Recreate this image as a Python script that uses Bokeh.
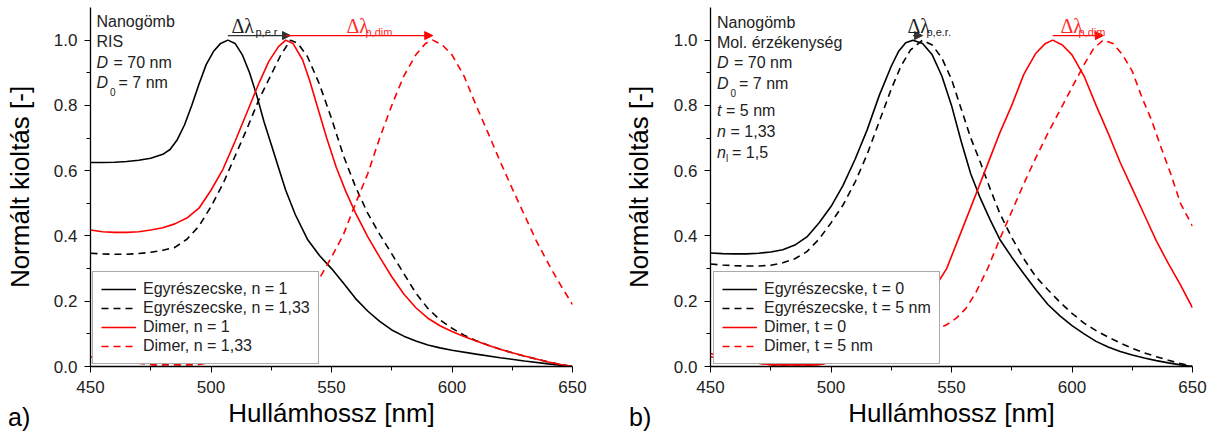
import numpy as np
from bokeh.plotting import figure
from bokeh.layouts import row, column
from bokeh.models import (Range1d, Legend, LegendItem, Label, Arrow, NormalHead,
                          FixedTicker, PrintfTickFormatter, Div)
from bokeh.embed import file_html
from bokeh.resources import INLINE

# ---------------- a) RIS: single sphere vs. dimer, n = 1 and n = 1,33 ----------------
wl_a_single_n1 = [450, 455, 460, 465, 470, 475, 480, 483, 486, 489, 492, 495, 498, 501, 504,
                  507, 510, 513, 516, 519, 522, 525, 528, 531, 535, 540, 545, 550, 555, 560,
                  565, 570, 575, 580, 585, 590, 595, 600, 610, 620, 630, 640, 650]
ext_a_single_n1 = [0.625, 0.625, 0.626, 0.628, 0.632, 0.638, 0.65, 0.665, 0.695, 0.74, 0.80,
                   0.865, 0.925, 0.965, 0.99, 1.0, 0.99, 0.955, 0.90, 0.83, 0.75, 0.68, 0.61,
                   0.54, 0.465, 0.39, 0.34, 0.30, 0.255, 0.208, 0.17, 0.138, 0.112, 0.093,
                   0.078, 0.066, 0.057, 0.05, 0.038, 0.027, 0.017, 0.008, 0.0]

wl_a_single_n133 = [450, 455, 460, 465, 470, 475, 480, 485, 490, 495, 500, 505, 510, 515, 520,
                    525, 529, 533, 536, 540, 545, 550, 555, 560, 565, 570, 575, 580, 585, 590,
                    595, 600, 605, 610, 615, 620, 625, 630, 635, 640, 645, 650]
ext_a_single_n133 = [0.347, 0.345, 0.344, 0.344, 0.346, 0.35, 0.356, 0.365, 0.39, 0.43, 0.49,
                     0.56, 0.645, 0.73, 0.82, 0.895, 0.955, 1.0, 0.99, 0.95, 0.865, 0.76,
                     0.645, 0.55, 0.47, 0.405, 0.345, 0.285, 0.225, 0.178, 0.143, 0.117,
                     0.096, 0.079, 0.065, 0.053, 0.042, 0.032, 0.023, 0.014, 0.006, 0.0]

wl_a_dimer_n1 = [450, 455, 460, 465, 470, 475, 480, 485, 490, 495, 500, 505, 510, 515, 520,
                 524, 528, 531, 534, 538, 541, 544, 548, 552, 556, 560, 565, 570, 575, 580,
                 585, 590, 595, 600, 605, 610, 615, 620, 625, 630, 635, 640, 645, 650]
ext_a_dimer_n1 = [0.418, 0.413, 0.411, 0.411, 0.413, 0.418, 0.425, 0.437, 0.455, 0.485, 0.54,
                  0.605, 0.69, 0.78, 0.87, 0.935, 0.98, 1.0, 0.99, 0.94, 0.875, 0.80, 0.70,
                  0.61, 0.535, 0.47, 0.398, 0.335, 0.275, 0.222, 0.18, 0.148, 0.125, 0.107,
                  0.092, 0.078, 0.065, 0.053, 0.042, 0.032, 0.023, 0.014, 0.006, 0.0]

wl_a_dimer_n133 = [450, 455, 460, 465, 470, 476, 485, 494, 500, 505, 510, 515, 520, 525, 530,
                   535, 540, 545, 550, 555, 560, 565, 570, 575, 580, 585, 589, 592, 596, 600,
                   605, 610, 615, 620, 625, 630, 635, 640, 645, 650]
ext_a_dimer_n133 = [0.03, 0.022, 0.015, 0.012, 0.01, 0.005, 0.005, 0.005, 0.012, 0.02, 0.035,
                    0.055, 0.08, 0.11, 0.145, 0.185, 0.225, 0.27, 0.335, 0.405, 0.50, 0.59,
                    0.70, 0.80, 0.89, 0.955, 0.99, 1.0, 0.985, 0.955, 0.89, 0.80, 0.715,
                    0.628, 0.545, 0.465, 0.385, 0.315, 0.25, 0.19]

# ---------------- b) molecular sensitivity: bare (t = 0) vs. 5 nm layer ----------------
wl_b_single_t0 = [450, 455, 460, 465, 470, 475, 480, 485, 490, 495, 500, 505, 510, 515, 520,
                  525, 528, 531, 534, 538, 542, 546, 550, 554, 558, 562, 566, 570, 575, 580,
                  585, 590, 595, 600, 605, 610, 615, 620, 625, 630, 635, 640, 645, 650]
ext_b_single_t0 = [0.348, 0.346, 0.345, 0.345, 0.347, 0.351, 0.358, 0.372, 0.397, 0.44, 0.49,
                   0.555, 0.635, 0.725, 0.83, 0.92, 0.965, 0.992, 1.0, 0.99, 0.955, 0.89,
                   0.80, 0.69, 0.59, 0.515, 0.45, 0.39, 0.335, 0.284, 0.235, 0.19, 0.155,
                   0.125, 0.10, 0.077, 0.06, 0.046, 0.035, 0.026, 0.018, 0.011, 0.005, 0.0]

wl_b_single_t5 = [450, 455, 460, 465, 470, 475, 480, 485, 490, 495, 500, 505, 510, 515, 520,
                  525, 529, 533, 538, 542, 546, 550, 554, 558, 562, 566, 570, 575, 580, 585,
                  590, 595, 600, 605, 610, 615, 620, 625, 630, 635, 640, 645, 650]
ext_b_single_t5 = [0.314, 0.311, 0.309, 0.308, 0.308, 0.31, 0.318, 0.33, 0.352, 0.39, 0.44,
                   0.495, 0.565, 0.65, 0.75, 0.85, 0.92, 0.97, 1.0, 0.985, 0.945, 0.88, 0.79,
                   0.70, 0.625, 0.545, 0.47, 0.395, 0.33, 0.275, 0.235, 0.197, 0.163, 0.133,
                   0.11, 0.09, 0.072, 0.056, 0.042, 0.03, 0.019, 0.009, 0.0]

wl_b_dimer_t0 = [450, 455, 460, 465, 470, 476, 485, 494, 500, 505, 510, 515, 520, 525, 530,
                 535, 540, 545, 548, 552, 556, 560, 565, 570, 575, 580, 585, 589, 592, 596,
                 600, 605, 610, 615, 620, 625, 630, 635, 640, 645, 650]
ext_b_dimer_t0 = [0.03, 0.022, 0.015, 0.012, 0.01, 0.005, 0.005, 0.005, 0.012, 0.02, 0.035,
                  0.055, 0.08, 0.11, 0.145, 0.185, 0.225, 0.265, 0.30, 0.375, 0.45, 0.525,
                  0.62, 0.715, 0.80, 0.895, 0.96, 0.99, 1.0, 0.985, 0.955, 0.89, 0.80, 0.715,
                  0.625, 0.545, 0.465, 0.385, 0.315, 0.25, 0.18]

wl_b_dimer_t5 = [450, 455, 460, 465, 470, 476, 485, 494, 500, 505, 510, 515, 520, 525, 530,
                 535, 540, 545, 548, 552, 556, 560, 565, 570, 575, 580, 585, 590, 595, 600,
                 605, 609, 613, 617, 621, 625, 629, 633, 637, 641, 645, 650]
ext_b_dimer_t5 = [0.04, 0.03, 0.02, 0.014, 0.01, 0.005, 0.005, 0.005, 0.012, 0.02, 0.03,
                  0.042, 0.055, 0.068, 0.082, 0.097, 0.108, 0.118, 0.128, 0.148, 0.178, 0.225,
                  0.30, 0.39, 0.475, 0.56, 0.64, 0.715, 0.785, 0.855, 0.925, 0.975, 1.0, 0.99,
                  0.955, 0.905, 0.825, 0.755, 0.67, 0.59, 0.50, 0.43]

x_ticks = [450, 500, 550, 600, 650]
x_minor = [475, 525, 575, 625]
y_ticks = [0.0, 0.2, 0.4, 0.6, 0.8, 1.0]
y_minor = [0.1, 0.3, 0.5, 0.7, 0.9]

SANS = "Liberation Sans"
SERIF = "Liberation Serif"
TXT = "#222222"
RED = "#ff0000"
ARROW_Y = 1.014
FRAME_BOTTOM = 366  # page y of the x axis line


def peak(wl, ext):
    return wl[int(np.argmax(ext))]


def make_panel(width, left, right, ylabel_standoff):
    p = figure(width=width, height=436, x_range=Range1d(450, 650), y_range=Range1d(0, 1.1),
               output_backend="svg", toolbar_location=None,
               min_border_left=left, min_border_right=right,
               min_border_top=7, min_border_bottom=70)
    p.outline_line_color = None
    p.xgrid.visible = False
    p.ygrid.visible = False
    p.xaxis.ticker = FixedTicker(ticks=x_ticks, minor_ticks=x_minor)
    p.yaxis.ticker = FixedTicker(ticks=y_ticks, minor_ticks=y_minor)
    p.yaxis.formatter = PrintfTickFormatter(format="%.1f")
    for ax in (p.xaxis[0], p.yaxis[0]):
        ax.axis_line_color = "black"
        ax.axis_line_width = 1.3
        ax.major_tick_line_color = "black"
        ax.minor_tick_line_color = "black"
        ax.major_tick_out = 6
        ax.major_tick_in = 0
        ax.minor_tick_out = 4
        ax.minor_tick_in = 0
        ax.major_label_text_font = SANS
        ax.major_label_text_font_size = "17px"
        ax.major_label_text_color = TXT
        ax.axis_label_text_font = SANS
        ax.axis_label_text_font_size = "26px"
        ax.axis_label_text_font_style = "normal"
        ax.axis_label_text_color = "black"
    p.xaxis.axis_label = "Hullámhossz [nm]"
    p.yaxis.axis_label = "Normált kioltás [-]"
    p.xaxis.major_label_standoff = 8
    p.xaxis.axis_label_standoff = 2
    p.yaxis.major_label_standoff = 7
    p.yaxis.axis_label_standoff = ylabel_standoff
    return p


def add_text(p, frame_left, x, y, text, size="16px", style="normal", color=TXT,
             font=SANS, baseline="middle"):
    p.add_layout(Label(x=x - frame_left, y=FRAME_BOTTOM - y, x_units="screen", y_units="screen",
                       text=text, text_font=font, text_font_size=size, text_font_style=style,
                       text_color=color, text_baseline=baseline))


def add_legend(p, items, x, y):
    leg = Legend(items=items, location=(x, y), orientation="vertical")
    leg.border_line_color = "#555555"
    leg.border_line_width = 1
    leg.background_fill_color = "white"
    leg.background_fill_alpha = 1.0
    leg.label_text_font = SANS
    leg.label_text_font_size = "16px"
    leg.label_text_color = TXT
    leg.glyph_width = 35
    leg.glyph_height = 16
    leg.label_height = 16
    leg.label_standoff = 7
    leg.padding = 8
    leg.spacing = 1
    leg.margin = 0
    p.add_layout(leg)


def add_arrow(p, x0, x1, color):
    p.add_layout(Arrow(x_start=x0, y_start=ARROW_Y, x_end=x1, y_end=ARROW_Y,
                       line_color=color, line_width=1.2,
                       end=NormalHead(size=8, fill_color=color, line_color=color)))


def panel_tag(text, left, top):
    return Div(text=text, width=30, height=30,
               styles={"position": "absolute", "left": f"{left}px", "top": f"{top}px",
                       "font-family": SANS, "font-size": "25px", "line-height": "30px",
                       "color": "black", "z-index": "10"})


LW = 1.6
DASH = "7 5"

# ---------------- panel a ----------------
pa = make_panel(606, 90, 34, 16)
ra1 = pa.line(wl_a_single_n1, ext_a_single_n1, line_color="black", line_width=LW)
ra2 = pa.line(wl_a_single_n133, ext_a_single_n133, line_color="black", line_width=LW,
              line_dash=DASH)
ra3 = pa.line(wl_a_dimer_n1, ext_a_dimer_n1, line_color=RED, line_width=LW)
ra4 = pa.line(wl_a_dimer_n133, ext_a_dimer_n133, line_color=RED, line_width=LW,
              line_dash=DASH)
add_legend(pa, [LegendItem(label="Egyrészecske, n = 1", renderers=[ra1]),
                LegendItem(label="Egyrészecske, n = 1,33", renderers=[ra2]),
                LegendItem(label="Dimer, n = 1", renderers=[ra3]),
                LegendItem(label="Dimer, n = 1,33", renderers=[ra4])], 2, 2)

add_arrow(pa, peak(wl_a_single_n1, ext_a_single_n1), peak(wl_a_single_n133, ext_a_single_n133),
          "#333333")
add_arrow(pa, peak(wl_a_dimer_n1, ext_a_dimer_n1), peak(wl_a_dimer_n133, ext_a_dimer_n133), RED)

FL = 90
add_text(pa, FL, 96, 21, "Nanogömb")
add_text(pa, FL, 96, 41, "RIS")
add_text(pa, FL, 96, 62, "D", style="italic")
add_text(pa, FL, 113, 62, "= 70 nm")
add_text(pa, FL, 96, 82, "D", style="italic")
add_text(pa, FL, 109.5, 91, "0", size="10px")
add_text(pa, FL, 118, 82, "= 7 nm")
add_text(pa, FL, 231, 25, "Δλ", size="20px", font=SERIF, baseline="alphabetic")
add_text(pa, FL, 255, 31, "p,e.r.", size="11px", baseline="alphabetic")
add_text(pa, FL, 346, 25, "Δλ", size="20px", font=SERIF, color="#ff2a2a", baseline="alphabetic")
add_text(pa, FL, 365, 31, "p,dim", size="11px", color="#ff2a2a", baseline="alphabetic")

# ---------------- panel b ----------------
pb = make_panel(606, 104, 20, 17)
rb1 = pb.line(wl_b_single_t0, ext_b_single_t0, line_color="black", line_width=LW)
rb2 = pb.line(wl_b_single_t5, ext_b_single_t5, line_color="black", line_width=LW,
              line_dash=DASH)
rb3 = pb.line(wl_b_dimer_t0, ext_b_dimer_t0, line_color=RED, line_width=LW)
rb4 = pb.line(wl_b_dimer_t5, ext_b_dimer_t5, line_color=RED, line_width=LW, line_dash=DASH)
add_legend(pb, [LegendItem(label="Egyrészecske, t = 0", renderers=[rb1]),
                LegendItem(label="Egyrészecske, t = 5 nm", renderers=[rb2]),
                LegendItem(label="Dimer, t = 0", renderers=[rb3]),
                LegendItem(label="Dimer, t = 5 nm", renderers=[rb4])], 3, 2)

add_arrow(pb, peak(wl_b_single_t0, ext_b_single_t0), peak(wl_b_single_t5, ext_b_single_t5),
          "#333333")
add_arrow(pb, peak(wl_b_dimer_t0, ext_b_dimer_t0), peak(wl_b_dimer_t5, ext_b_dimer_t5), RED)

FR = 710
add_text(pb, FR, 716.5, 21.5, "Nanogömb")
add_text(pb, FR, 716.5, 41.5, "Mol. érzékenység")
add_text(pb, FR, 716.5, 62, "D", style="italic")
add_text(pb, FR, 733.5, 62, "= 70 nm")
add_text(pb, FR, 716.5, 83, "D", style="italic")
add_text(pb, FR, 730, 92, "0", size="10px")
add_text(pb, FR, 738.5, 83, "= 7 nm")
add_text(pb, FR, 716.5, 110, "t", style="italic")
add_text(pb, FR, 725.5, 110, "= 5 nm")
add_text(pb, FR, 716.5, 130.5, "n", style="italic")
add_text(pb, FR, 730, 130.5, "= 1,33")
add_text(pb, FR, 716.5, 151.5, "n", style="italic")
add_text(pb, FR, 725.5, 158, "l", size="10px")
add_text(pb, FR, 731.5, 151.5, "= 1,5")
add_text(pb, FR, 907, 25, "Δλ", size="20px", font=SERIF, baseline="alphabetic")
add_text(pb, FR, 926, 31, "p,e.r.", size="11px", baseline="alphabetic")
add_text(pb, FR, 1060, 25, "Δλ", size="20px", font=SERIF, color="#ff2a2a", baseline="alphabetic")
add_text(pb, FR, 1078, 31, "p,dim", size="11px", color="#ff2a2a", baseline="alphabetic")

layout = column(row(pa, pb), panel_tag("a)", 3, 397), panel_tag("b)", 624, 397),
                styles={"position": "relative"})
open("out.html", "w").write(file_html(layout, INLINE))
